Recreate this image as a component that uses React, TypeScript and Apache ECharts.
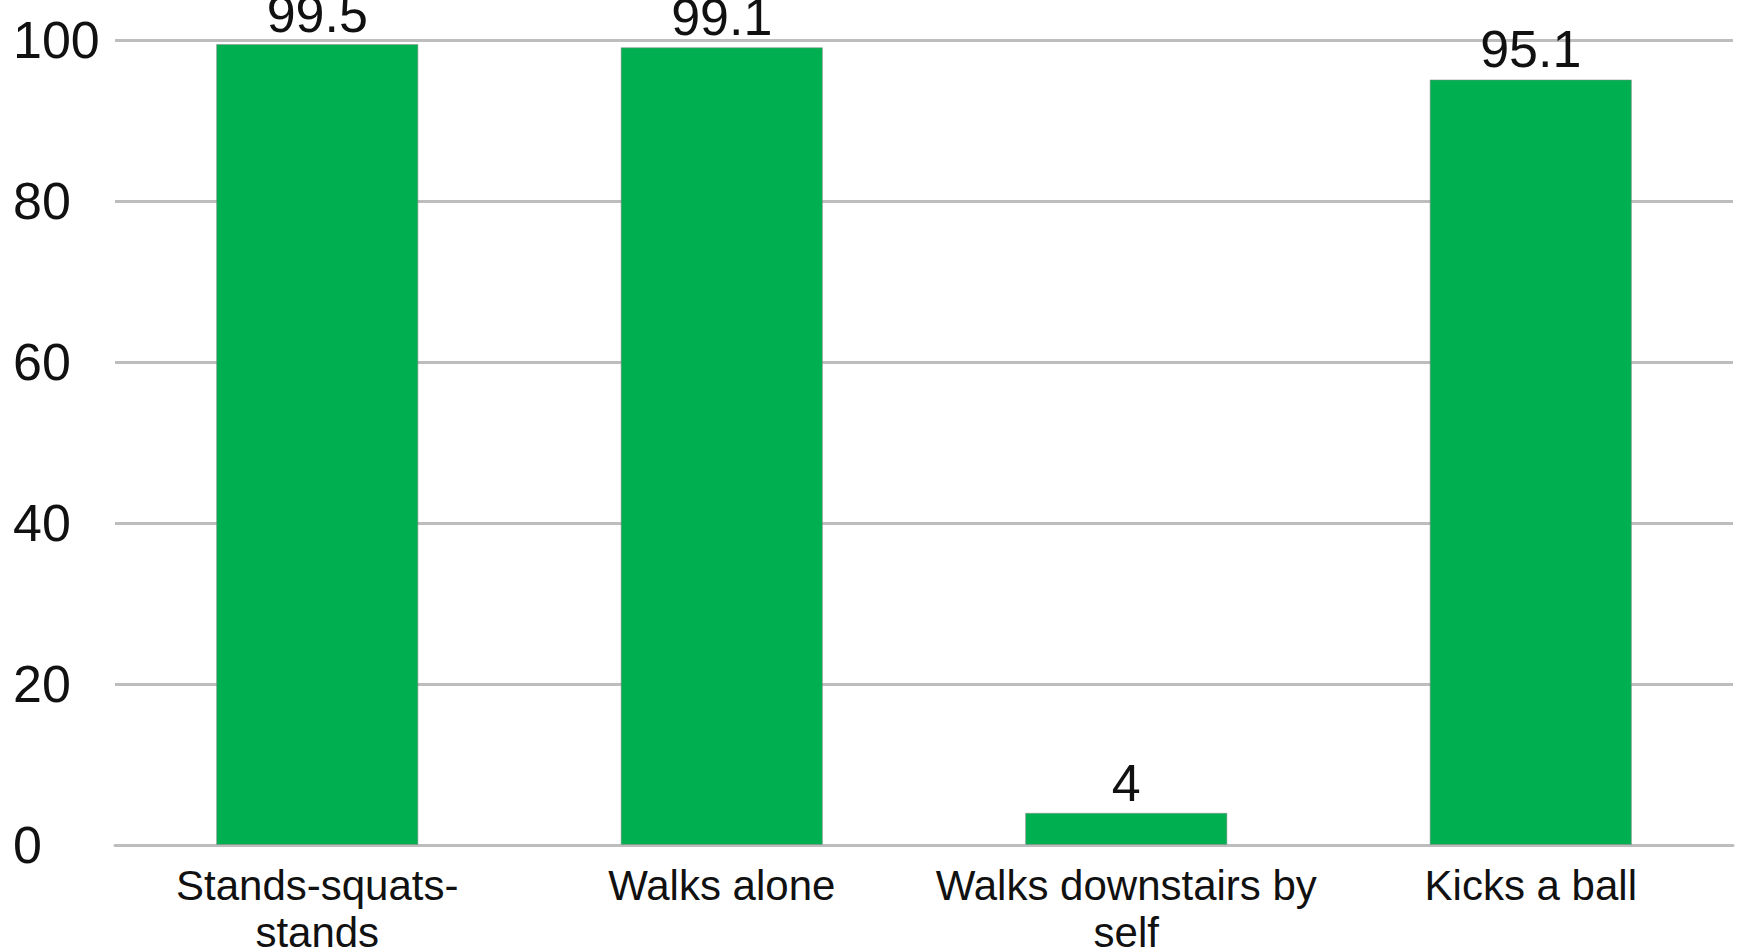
import React, { useEffect, useRef } from "react";
import * as echarts from "echarts";

// Share of children achieving each gross-motor milestone (%)
const categories = [
  "Stands-squats-\nstands",
  "Walks alone",
  "Walks downstairs by\nself",
  "Kicks a ball",
];
const values = [99.5, 99.1, 4, 95.1];
const yTicks = { min: 0, max: 100, interval: 20 };

const FONT = "'Liberation Sans', Arial, sans-serif";

export default function App() {
  const ref = useRef<HTMLDivElement>(null);

  useEffect(() => {
    if (!ref.current) return;
    const chart = echarts.init(ref.current, undefined, { renderer: "svg" });
    chart.setOption({
      animation: false,
      backgroundColor: "#ffffff",
      grid: {
        left: 115,
        right: 7,
        top: 40,
        bottom: 107,
        containLabel: false,
        outerBoundsMode: "none",
      },
      xAxis: {
        type: "category",
        data: categories,
        axisTick: { show: false },
        axisLine: { show: true, lineStyle: { color: "#bdbdbd", width: 3 } },
        axisLabel: {
          interval: 0,
          margin: 17,
          color: "#111111",
          fontFamily: FONT,
          fontSize: 42,
          lineHeight: 47,
        },
      },
      yAxis: {
        type: "value",
        min: yTicks.min,
        max: yTicks.max,
        interval: yTicks.interval,
        axisLine: { show: false },
        axisTick: { show: false },
        axisLabel: {
          align: "left",
          margin: 102,
          color: "#111111",
          fontFamily: FONT,
          fontSize: 52,
        },
        splitLine: { lineStyle: { color: "#bdbdbd", width: 3 } },
      },
      series: [
        {
          type: "bar",
          data: values,
          barWidth: "50%",
          itemStyle: {
            color: "#00b050",
            borderColor: "rgba(140,140,140,0.55)",
            borderWidth: 1,
          },
          label: {
            show: true,
            position: "top",
            distance: 4,
            color: "#111111",
            fontFamily: FONT,
            fontSize: 52,
          },
        },
      ],
    });
    return () => chart.dispose();
  }, []);

  return (
    <div
      ref={ref}
      style={{ position: "fixed", left: 0, top: 0, width: 1740, height: 952 }}
    />
  );
}
